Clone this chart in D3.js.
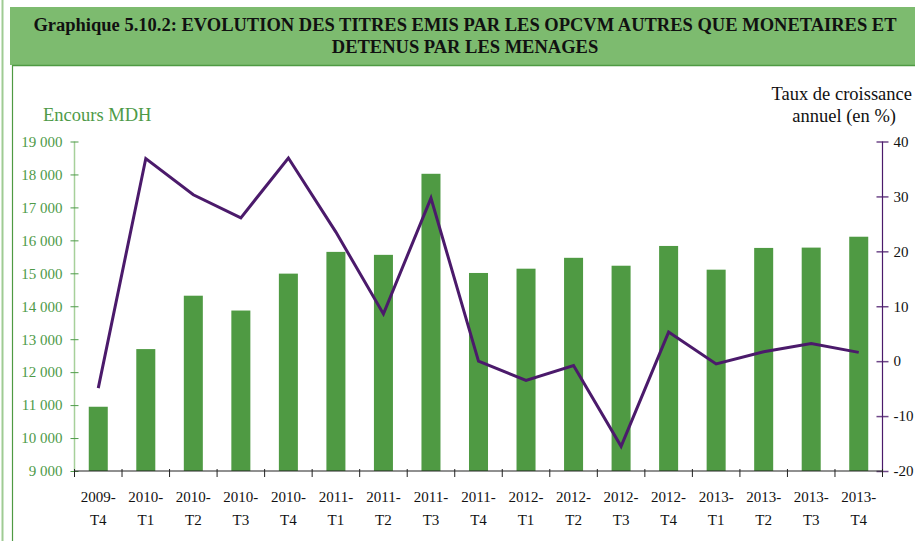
<!DOCTYPE html>
<html>
<head>
<meta charset="utf-8">
<script src="https://cdn.jsdelivr.net/npm/d3@7"></script>
<style>
  html, body { margin: 0; padding: 0; background: #fff; }
  svg { display: block; }
  text { font-family: "Liberation Serif", "Times New Roman", serif; }
</style>
</head>
<body>
<svg id="chart" width="915" height="541"></svg>
<script>
// Quarters
const quarters = ["2009-T4","2010-T1","2010-T2","2010-T3","2010-T4","2011-T1","2011-T2","2011-T3","2011-T4",
                  "2012-T1","2012-T2","2012-T3","2012-T4","2013-T1","2013-T2","2013-T3","2013-T4"];
// Outstanding amounts (MDH)
const encours = [10950, 12700, 14320, 13870, 14990, 15650, 15560, 18020, 15010,
                 15140, 15470, 15230, 15830, 15110, 15770, 15780, 16110];
// Annual growth rate (%)
const croissance = [-4.9, 36.9, 30.3, 26.1, 37.0, 23.5, 8.6, 29.7, 0.0,
                    -3.5, -0.8, -15.5, 5.3, -0.5, 1.7, 3.2, 1.6];
const leftTicks = [9000,10000,11000,12000,13000,14000,15000,16000,17000,18000,19000];
const rightTicks = [-20,-10,0,10,20,30,40];

const svg = d3.select("#chart");
const green = "#4f9a43", purple = "#4b1a6b", labelGreen = "#4e9a48";

// Frame and title band
svg.append("line").attr("x1", 2.5).attr("x2", 2.5).attr("y1", 0).attr("y2", 541)
  .attr("stroke", "#9fcb93").attr("stroke-width", 2);
svg.append("rect").attr("x", 10).attr("y", 7).attr("width", 905).attr("height", 58).attr("fill", "#7dbb6f");
svg.append("line").attr("x1", 12).attr("x2", 915).attr("y1", 65.5).attr("y2", 65.5)
  .attr("stroke", "#4f9a43").attr("stroke-width", 1.5);
svg.append("line").attr("x1", 12.5).attr("x2", 12.5).attr("y1", 65).attr("y2", 541)
  .attr("stroke", "#4f9a43").attr("stroke-width", 1.2);

svg.append("text").attr("x", 465).attr("y", 31).attr("text-anchor", "middle")
  .attr("font-weight", "bold").attr("font-size", 18.5).attr("fill", "#111")
  .text("Graphique 5.10.2: EVOLUTION DES TITRES EMIS PAR LES OPCVM AUTRES QUE MONETAIRES ET");
svg.append("text").attr("x", 465).attr("y", 53).attr("text-anchor", "middle")
  .attr("font-weight", "bold").attr("font-size", 18.5).attr("fill", "#111")
  .text("DETENUS PAR LES MENAGES");

// Plot area
const x0 = 74.5, x1 = 882.5, yTop = 141.5, yBot = 471;
const x = d3.scaleBand().domain(quarters).range([x0, x1]).paddingInner(0.6).paddingOuter(0.3);
const yL = d3.scaleLinear().domain([9000, 19000]).range([yBot, yTop]);
const yR = d3.scaleLinear().domain([-20, 40]).range([yBot, yTop]);

// Bars
svg.append("g").selectAll("rect").data(quarters).join("rect")
  .attr("x", d => x(d)).attr("width", x.bandwidth())
  .attr("y", (d, i) => yL(encours[i])).attr("height", (d, i) => yBot - yL(encours[i]))
  .attr("fill", green);

// Left axis
const gL = svg.append("g").attr("transform", `translate(${x0},0)`)
  .call(d3.axisLeft(yL).tickValues(leftTicks).tickSize(4).tickFormat(v => d3.format(",")(v).replace(",", " ")));
gL.attr("font-family", null);
gL.select(".domain").attr("stroke", "#a6d09a").attr("stroke-width", 1.5).attr("d", `M0,${yTop}V${yBot}`);
gL.selectAll(".tick line").attr("stroke", labelGreen).attr("x1", 4).attr("x2", -4);
gL.selectAll(".tick text").attr("fill", labelGreen).attr("font-size", 15).attr("x", -12);

// Right axis
const gR = svg.append("g").attr("transform", `translate(${x1},0)`)
  .call(d3.axisRight(yR).tickValues(rightTicks).tickSize(5).tickFormat(v => String(v)));
gR.attr("font-family", null);
gR.select(".domain").attr("stroke", purple).attr("stroke-width", 1.2).attr("d", `M0,${yTop}V${yBot}`);
gR.selectAll(".tick line").attr("stroke", purple).attr("stroke-opacity", 0.8).attr("stroke-width", 1.5)
  .attr("x1", -6).attr("x2", 6);
gR.selectAll(".tick text").attr("fill", "#111").attr("font-size", 15).attr("x", 11);

// Bottom axis
const gB = svg.append("g");
gB.append("line").attr("x1", x0).attr("x2", x1).attr("y1", yBot).attr("y2", yBot)
  .attr("stroke", "#222").attr("stroke-width", 1.2);
const tickXs = d3.range(quarters.length + 1).map(i => x0 + i * x.step());
gB.selectAll("line.tk").data(tickXs).join("line").attr("class", "tk")
  .attr("x1", d => d).attr("x2", d => d).attr("y1", yBot - 2).attr("y2", yBot + 6)
  .attr("stroke", "#222").attr("stroke-width", 1);
const lbl = gB.selectAll("text").data(quarters).join("text")
  .attr("text-anchor", "middle").attr("font-size", 15).attr("fill", "#111")
  .attr("transform", d => `translate(${x(d) + x.bandwidth() / 2},0)`);
lbl.append("tspan").attr("x", 0).attr("y", 502).text(d => d.split("-")[0] + "-");
lbl.append("tspan").attr("x", 0).attr("y", 525).text(d => d.split("-")[1]);

// Growth line
const line = d3.line().x((d, i) => x(quarters[i]) + x.bandwidth() / 2).y(d => yR(d));
svg.append("path").datum(croissance).attr("d", line)
  .attr("fill", "none").attr("stroke", purple).attr("stroke-width", 3).attr("stroke-linejoin", "miter");

// Axis titles
svg.append("text").attr("x", 43).attr("y", 121).attr("font-size", 18.5).attr("fill", labelGreen)
  .text("Encours MDH");
svg.append("text").attr("x", 912).attr("y", 100).attr("text-anchor", "end").attr("font-size", 18.5).attr("fill", "#111")
  .text("Taux de croissance");
svg.append("text").attr("x", 896).attr("y", 122).attr("text-anchor", "end").attr("font-size", 18.5).attr("fill", "#111")
  .text("annuel (en %)");
</script>
</body>
</html>
